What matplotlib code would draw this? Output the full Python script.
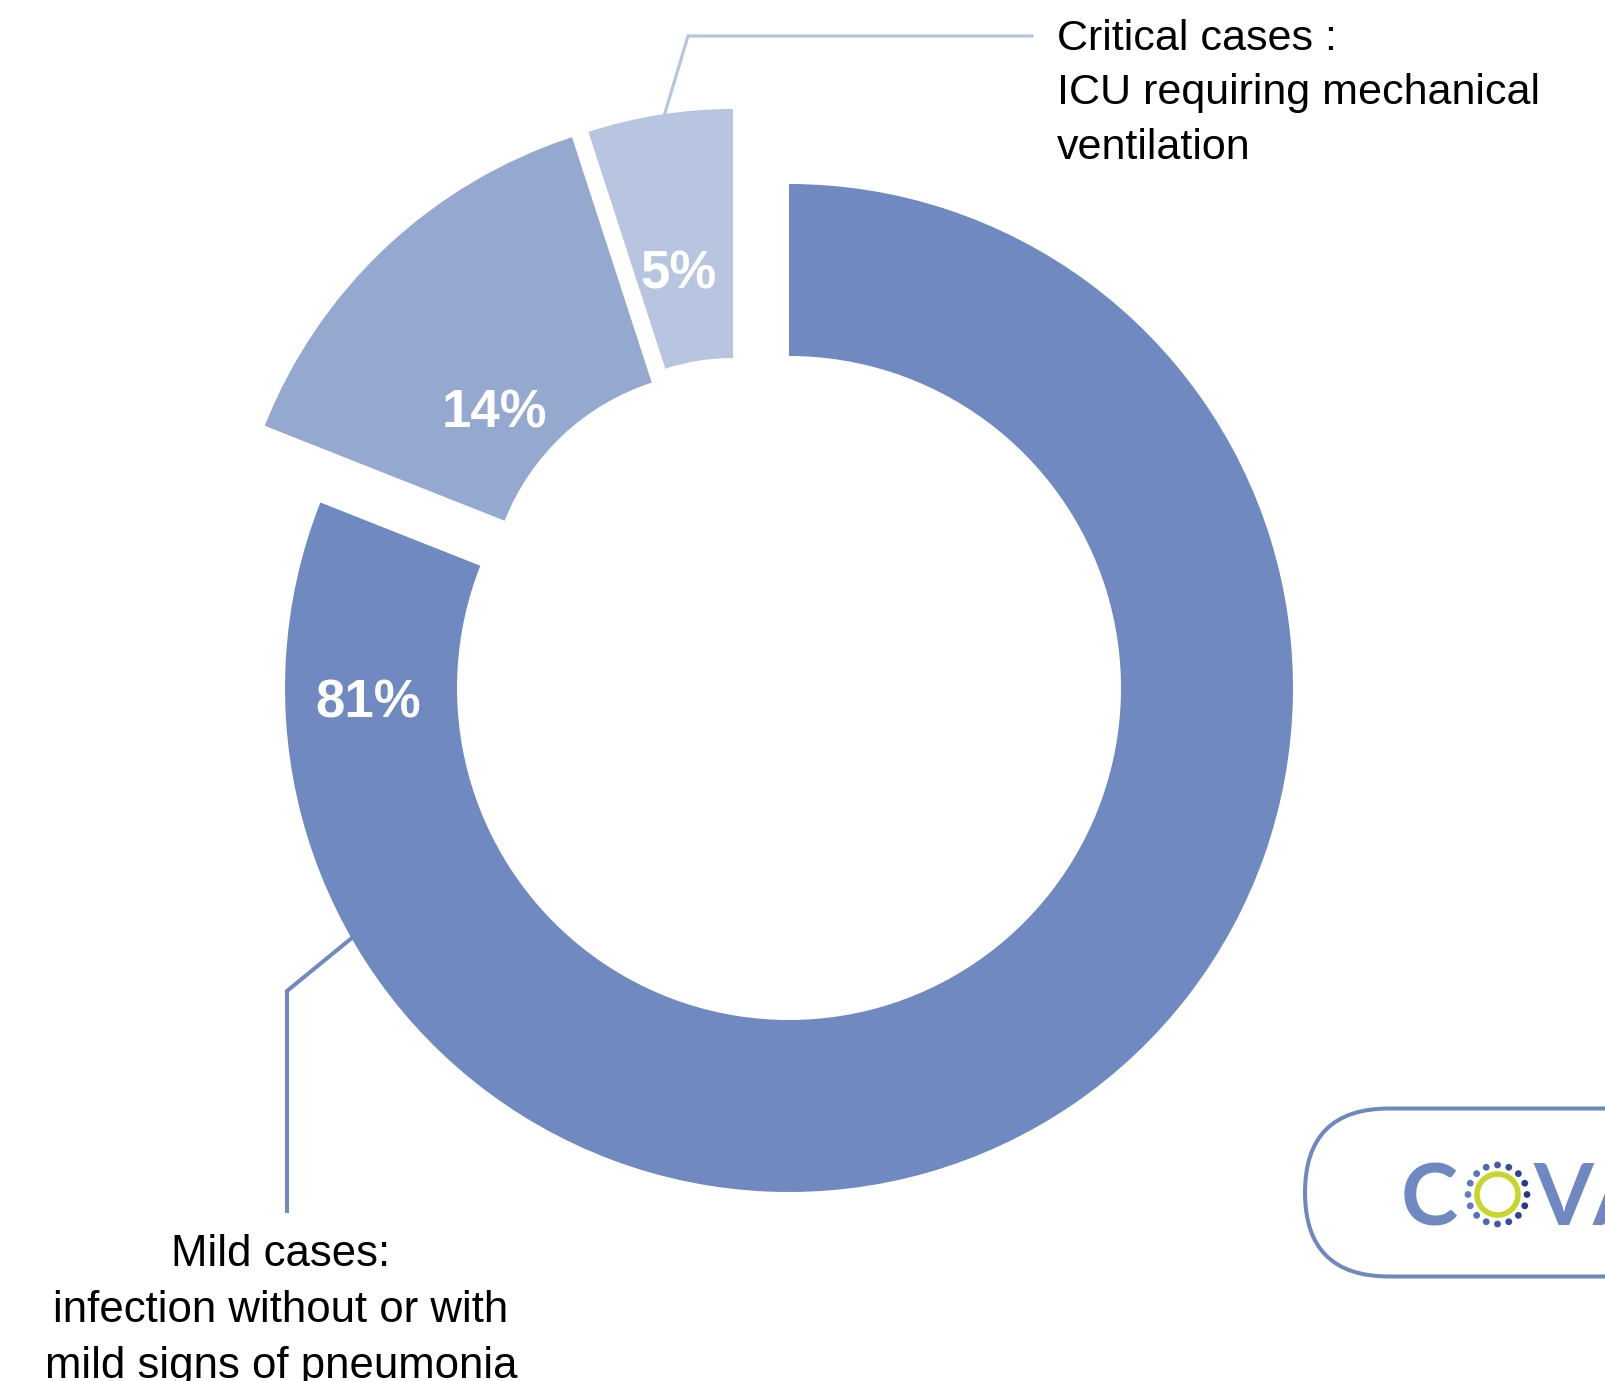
import numpy as np
import matplotlib
matplotlib.use('Agg')
import matplotlib.pyplot as plt
from matplotlib.patches import Wedge, FancyBboxPatch, Circle
from matplotlib.colors import to_rgb

# Severity split of confirmed cases (percent)
categories = ['Mild', 'Severe', 'Critical']
shares = [81, 14, 5]
pct_labels = [f'{v}%' for v in shares]
slice_colors = ['#7089c0', '#95a9d0', '#b7c5e0']

critical_text = 'Critical cases :\nICU requiring mechanical\nventilation'
mild_text = 'Mild cases:\ninfection without or with\nmild signs of pneumonia'

W, H = 1605, 1381
fig = plt.figure(figsize=(W / 100, H / 100), dpi=100)
ax = fig.add_axes([0, 0, 1, 1])
ax.set_xlim(0, W)
ax.set_ylim(0, H)
ax.axis('off')

# ring geometry per slice: centre, outer radius, ring width
# (the two small slices are pulled out of the ring and drawn thicker)
geom = [
    ((789, 693), 504, 172),
    ((725, 773), 495, 258),
    ((733, 804), 468, 249),
]
label_pos = [(368, 664), (494, 954), (679, 1093)]

# slices run clockwise from 12 o'clock
start = 90.0
for share, color, (c, r, w), lab, lp in zip(shares, slice_colors, geom, pct_labels, label_pos):
    theta2 = start
    theta1 = start - share * 3.6
    start = theta1
    ax.add_patch(Wedge(c, r, theta1, theta2, width=w, facecolor=color,
                       edgecolor='none'))
    ax.text(lp[0], lp[1], lab, color='white', fontsize=38, fontweight='bold',
            family='Liberation Sans', ha='center', va='baseline')

# leader lines to the annotations
ax.plot([665, 688, 1032], [1268, 1345, 1345], color='#b7c5e0', lw=2.3,
        solid_joinstyle='miter')
ax.plot([353, 287, 287], [444, 390, 170], color='#7089c0', lw=2.9,
        solid_joinstyle='miter')

# va='baseline' on a multi-line text pins the last line's baseline
ax.text(1057, 1222, critical_text, fontsize=31, family='Liberation Sans',
        ha='left', va='baseline', linespacing=1.47)
ax.text(281, 3, mild_text, fontsize=31.5, family='Liberation Sans',
        ha='center', va='baseline', linespacing=1.47, multialignment='center')

# logo badge in the lower right corner
ax.add_patch(FancyBboxPatch((1305, 104.5), 600, 168,
                            boxstyle='round,pad=0,rounding_size=84',
                            facecolor='none', edgecolor='#6f88c2', lw=2.9))
ax.text(1401, 156, 'C', fontsize=62, family='Lato', fontweight='bold',
        color='#6f88c2', ha='left', va='baseline')
ax.text(1533, 156, 'VA', fontsize=62, family='Lato', fontweight='bold',
        color='#6f88c2', ha='left', va='baseline')

ring_c = np.array([1497.5, 186.5])
light, dark = np.array(to_rgb('#5f7dc4')), np.array(to_rgb('#24388c'))
for k in range(16):
    a = np.deg2rad(90 + k * 22.5)
    p = ring_c + 29.5 * np.array([np.cos(a), np.sin(a)])
    t = (np.cos(a) + 1) / 2
    ax.add_patch(Circle(p, 3.4, facecolor=light * (1 - t) + dark * t,
                        edgecolor='none'))
ax.add_patch(Circle(ring_c, 20.5, facecolor='none', edgecolor='#c8d52b', lw=4.0))

fig.savefig('out.png', dpi=100)
